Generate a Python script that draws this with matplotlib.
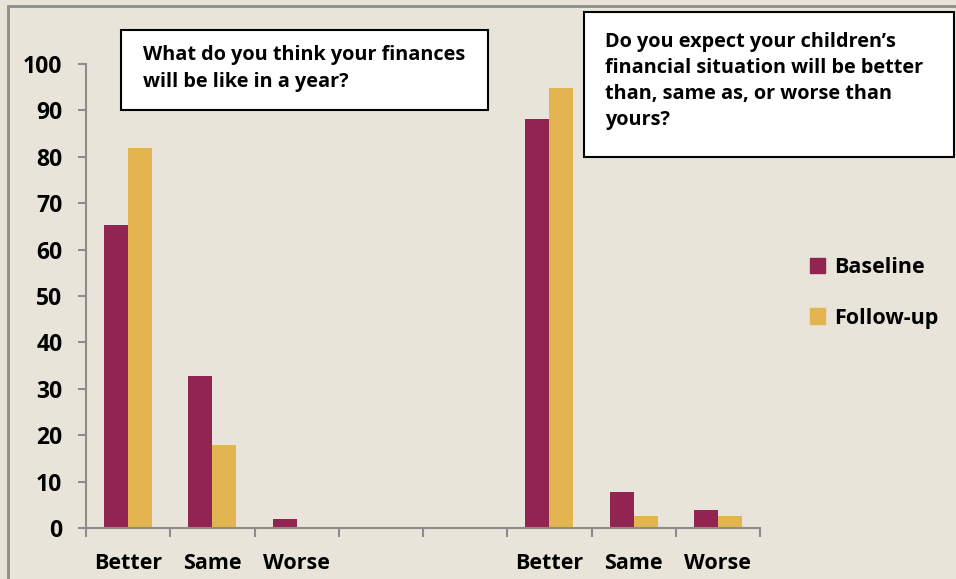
import matplotlib.pyplot as plt
from matplotlib.patches import Rectangle, Patch
import numpy as np

categories = ['Better', 'Same', 'Worse', '', '', 'Better', 'Same', 'Worse']
baseline = [65.2, 32.7, 2.0, 0, 0, 88.1, 7.8, 3.9]
follow_up = [81.9, 17.8, 0.0, 0, 0, 94.9, 2.5, 2.5]
yticks = list(range(0, 101, 10))

q1 = 'What do you think your finances\nwill be like in a year?'
q2 = ('Do you expect your children\u2019s\nfinancial situation will be better\n'
      'than, same as, or worse than\nyours?')

maroon = '#912450'
gold = '#E3B450'
bg = '#E8E4DA'
grey = '#8C8C8C'

plt.rcParams['font.family'] = ['Open Sans', 'DejaVu Sans']
plt.rcParams['font.weight'] = 'bold'

fig = plt.figure(figsize=(9.56, 5.79), dpi=100, facecolor=bg)
fig.patches.append(Rectangle((8 / 956, -0.1), 1.2, 1.1 - 6 / 579,
                             transform=fig.transFigure, fill=False,
                             edgecolor=grey, linewidth=2))

ax = fig.add_axes([86 / 956, 51 / 579, 674 / 956, 464 / 579])
ax.set_facecolor(bg)

x = np.arange(len(categories))
w = 0.285
ax.bar(x - w / 2, baseline, w, color=maroon, label='Baseline')
ax.bar(x + w / 2, follow_up, w, color=gold, label='Follow-up')

ax.set_xlim(-0.5, len(categories) - 0.5)
ax.set_ylim(0, 100)
ax.set_yticks(yticks)
ax.set_xticks(x)
ax.set_xticklabels(categories)
ax.set_xticks(np.arange(len(categories) + 1) - 0.5, minor=True)

for s in ['top', 'right']:
    ax.spines[s].set_visible(False)
for s in ['left', 'bottom']:
    ax.spines[s].set_color(grey)
    ax.spines[s].set_linewidth(1.5)

ax.tick_params(axis='y', length=6, width=1.5, color=grey, labelsize=16.5,
               pad=11)
ax.tick_params(axis='x', which='major', length=0, labelsize=15.5, pad=18)
ax.tick_params(axis='x', which='minor', length=6.5, width=1.5, color=grey)
for lab in ax.get_xticklabels() + ax.get_yticklabels():
    lab.set_fontweight('bold')

fig.patches.append(Rectangle((121 / 956, 1 - 110 / 579), 367 / 956, 80 / 579,
                             transform=fig.transFigure, facecolor='white',
                             edgecolor='black', linewidth=1.5))
fig.text(143 / 956, 1 - 68.5 / 579, q1, fontsize=14.3, fontweight='bold',
         va='center', ha='left', linespacing=1.42)
fig.patches.append(Rectangle((584 / 956, 1 - 157 / 579), 370 / 956, 145 / 579,
                             transform=fig.transFigure, facecolor='white',
                             edgecolor='black', linewidth=1.5))
fig.text(605 / 956, 1 - 81 / 579, q2, fontsize=14.3, fontweight='bold',
         va='center', ha='left', linespacing=1.42)

handles = [Patch(color=maroon), Patch(color=gold)]
fig.legend(handles, ['Baseline', 'Follow-up'], loc='center left',
           bbox_to_anchor=(791 / 956, 1 - 293 / 579), frameon=False,
           prop={'size': 15.5, 'weight': 'bold'}, handlelength=0.7,
           handleheight=0.7, handletextpad=0.4, labelspacing=1.35)

fig.savefig('out.png', dpi=100, facecolor=bg)
